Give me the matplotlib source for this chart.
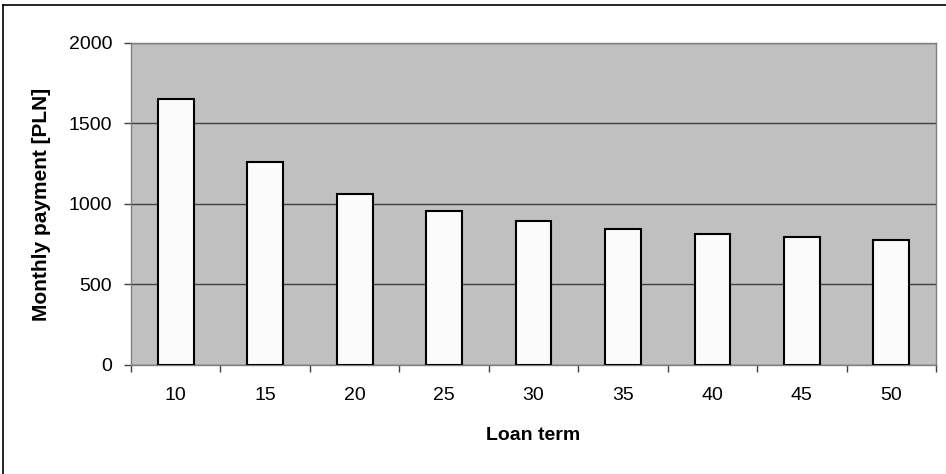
import matplotlib.pyplot as plt
from matplotlib.lines import Line2D
import numpy as np

plt.rcParams['font.family'] = ['Liberation Sans', 'DejaVu Sans']

terms = ['10', '15', '20', '25', '30', '35', '40', '45', '50']
payments = [1652, 1260, 1062, 955, 892, 844, 816, 792, 777]
y_ticks = [0, 500, 1000, 1500, 2000]

fig = plt.figure(figsize=(9.46, 4.74), dpi=100)
ax = fig.add_axes([0.1385, 0.23, 0.851, 0.6793])

x = np.arange(len(terms))
ax.set_facecolor('#c0c0c0')
ax.bar(x, payments, width=0.4, color='#fbfbfb', edgecolor='black', linewidth=1.5, zorder=3)

ax.set_xlim(-0.5, len(terms) - 0.5)
ax.set_ylim(0, 2000)
ax.set_yticks(y_ticks)
ax.yaxis.grid(True, color='#404040', linewidth=1.0, zorder=1)
ax.set_axisbelow(True)

ax.set_xticks(x)
ax.set_xticklabels(terms)
ax.set_xticks(np.arange(-0.5, len(terms)), minor=True)
ax.tick_params(axis='x', which='major', length=0, pad=16, labelsize=14)
ax.tick_params(axis='x', which='minor', length=5, width=1, color='#404040')
ax.tick_params(axis='y', length=5, width=1, color='#404040', pad=8.5, labelsize=14)

for s in ['left', 'bottom', 'right', 'top']:
    ax.spines[s].set_color('#808080')
    ax.spines[s].set_linewidth(1)

ax.set_xlabel('Loan term', fontsize=14, fontweight='bold')
ax.set_ylabel('Monthly payment [PLN]', fontsize=15, fontweight='bold')
ax.xaxis.set_label_coords(0.5, -0.2175)
ax.xaxis.label.set_va('center')
ax.yaxis.set_label_coords(-0.1118, 0.5)
ax.yaxis.label.set_va('center')

# chart frame: only its top and left edges fall inside the picture
fig.lines.append(Line2D([0.0035, 1.0], [0.989, 0.989], transform=fig.transFigure,
                        color='black', linewidth=1.2))
fig.lines.append(Line2D([0.0035, 0.0035], [0.0, 0.989], transform=fig.transFigure,
                        color='black', linewidth=1.2))

fig.savefig('out.png', dpi=100)
